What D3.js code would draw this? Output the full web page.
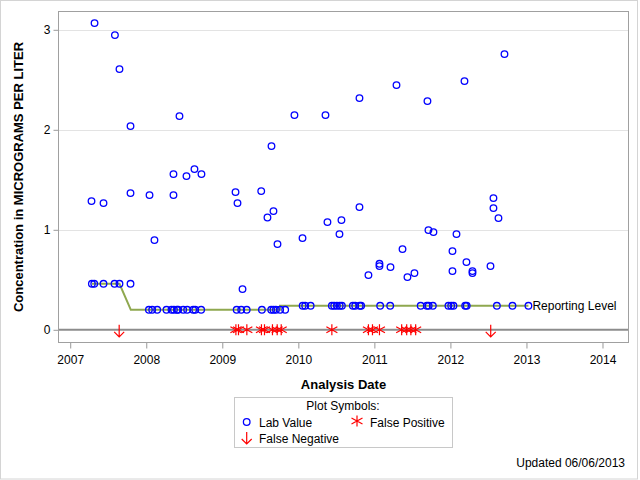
<!DOCTYPE html>
<html><head><meta charset="utf-8">
<script src="https://cdn.jsdelivr.net/npm/d3@7"></script>
<style>body{margin:0;background:#fff}svg{display:block;font-family:"Liberation Sans",Arial,sans-serif}</style>
</head><body><svg id="c" width="640" height="480"></svg>
<script>
// Lab values (decimal year, concentration)
const labYears = [
  2007.320,2007.588,2007.648,2007.793,2008.437,2009.949,2010.357,2009.647,
  2008.358,2008.529,2008.634,2008.726,2007.280,2007.438,2007.793,2008.043,2008.108,2008.358,
  2009.174,2009.200,2009.266,2009.512,2009.594,2009.673,2009.726,2010.055,2010.383,2010.567,2010.541,
  2010.804,2010.922,2011.067,2011.067,2011.212,2011.370,2011.435,2011.527,2011.711,2011.777,
  2012.080,2012.027,2012.027,2012.211,2012.290,2012.290,2012.527,2012.566,2012.566,2012.632,
  2010.804,2011.291,2011.698,2012.185,2012.711,
  2007.285,2007.316,2007.438,2007.583,2007.648,2007.793,
  2008.035,2008.078,2008.144,2008.266,2008.332,2008.364,2008.403,2008.420,2008.486,2008.538,
  2008.617,2008.644,2008.722,2009.189,2009.249,2009.321,2009.521,2009.643,2009.673,2009.705,2009.761,2009.827,
  2010.057,2010.090,2010.162,2010.441,2010.471,2010.507,2010.544,2010.573,2010.717,2010.748,2010.807,2010.826,
  2011.076,2011.208,2011.609,2011.690,2011.714,2011.769,2011.974,2012.010,2012.040,2012.194,2012.214,
  2012.611,2012.816,2013.026
];
const labValues = [
  3.067,2.947,2.607,2.037,2.137,2.147,2.147,1.837,
  1.557,1.537,1.607,1.557,1.287,1.267,1.367,1.347,0.897,1.347,
  1.377,1.267,0.407,1.387,1.123,1.187,0.857,0.917,1.077,1.097,0.957,
  1.227,0.547,0.660,0.637,0.627,0.807,0.527,0.567,0.997,0.977,
  0.957,0.787,0.587,0.677,0.587,0.567,0.637,1.317,1.217,1.117,
  2.317,2.447,2.287,2.487,2.757,
  0.46,0.46,0.46,0.46,0.46,0.46,
  0.2,0.2,0.2,0.2,0.2,0.2,0.2,0.2,0.2,0.2,
  0.2,0.2,0.2,0.2,0.2,0.2,0.2,0.2,0.2,0.2,0.2,0.2,
  0.24,0.24,0.24,0.24,0.24,0.24,0.24,0.24,0.24,0.24,0.24,0.24,
  0.24,0.24,0.24,0.24,0.24,0.24,0.24,0.24,0.24,0.24,0.24,
  0.24,0.24,0.24
];
// False positives (plotted at 0)
const fpYears = [2009.179,2009.213,2009.323,2009.515,2009.555,2009.660,2009.722,2009.775,
  2010.441,2010.922,2010.975,2011.067,2011.359,2011.425,2011.480,2011.543];
// False negatives (plotted at 0)
const fnYears = [2007.644,2012.530];
// Reporting level step line
const rlYears  = [2007.285,2007.648,2007.797,2009.760,2009.760,2013.026];
const rlValues = [0.46,0.46,0.2,0.2,0.24,0.24];
const xTicks = [2007,2008,2009,2010,2011,2012,2013,2014];
const yTicks = [0,1,2,3];

const svg = d3.select("#c");
const L=58.5,R=628.5,T=11.5,B=342.5;
const x = d3.scaleLinear().domain([2006.846,2014.342]).range([L,R]);
const y = d3.scaleLinear().domain([-0.127,3.183]).range([B,T]);

// outer border
svg.append("rect").attr("x",0.5).attr("y",0.5).attr("width",637).attr("height",478.5)
  .attr("fill","none").attr("stroke","#d4d4d4");

// grid
svg.append("g").selectAll("line").data(yTicks.filter(d=>d>0)).join("line")
  .attr("x1",L).attr("x2",R).attr("y1",d=>Math.round(y(d))+0.5).attr("y2",d=>Math.round(y(d))+0.5)
  .attr("stroke","#e3e3e3");

// zero reference line
svg.append("line").attr("x1",L).attr("x2",R).attr("y1",y(0)).attr("y2",y(0))
  .attr("stroke","#8c8c8c").attr("stroke-width",2);

// reporting level line
const rl = rlYears.map((d,i)=>[d,rlValues[i]]);
svg.append("path").datum(rl).attr("d",d3.line().x(d=>x(d[0])).y(d=>y(d[1])))
  .attr("fill","none").attr("stroke","#8fa84f").attr("stroke-width",2);
svg.append("text").attr("x",x(rlYears[rlYears.length-1])+4).attr("y",y(0.24)+4.5)
  .attr("font-size",12).text("Reporting Level");

// axes
const xa = svg.append("g").attr("transform",`translate(0,${B})`)
  .call(d3.axisBottom(x).tickValues(xTicks).tickFormat(d3.format("d")).tickSize(6).tickSizeOuter(0));
const ya = svg.append("g").attr("transform",`translate(${L},0)`)
  .call(d3.axisLeft(y).tickValues(yTicks).tickFormat(d3.format("d")).tickSize(5).tickSizeOuter(0));
[xa,ya].forEach(a=>{a.select(".domain").remove();a.selectAll("line").attr("stroke","#999");
  a.selectAll("text").attr("font-size",12).attr("fill","#000").attr("font-family","Liberation Sans, Arial, sans-serif");});
xa.selectAll("text").attr("dy","0.95em").attr("y",10);
ya.selectAll("text").attr("x",-8);

// frame
svg.append("rect").attr("x",L).attr("y",T).attr("width",R-L).attr("height",B-T)
  .attr("fill","none").attr("stroke","#a0a0a0");

// marks
const starPath = "M0,-5.5L0,5.5M-5.5,-3L5.5,3M-5.5,3L5.5,-3";
const arrowPath = "M0,-6L0,6M-5,1L0,6L5,1";
svg.append("g").selectAll("path").data(fpYears).join("path")
  .attr("d",starPath).attr("transform",d=>`translate(${x(d)},${y(0)})`)
  .attr("stroke","#ff0000").attr("stroke-width",1.2).attr("fill","none");
svg.append("g").selectAll("path").data(fnYears).join("path")
  .attr("d",arrowPath).attr("transform",d=>`translate(${x(d)},${y(0)+1})`)
  .attr("stroke","#ff0000").attr("stroke-width",1.2).attr("fill","none");
svg.append("g").selectAll("circle").data(labYears.map((d,i)=>[d,labValues[i]])).join("circle")
  .attr("cx",d=>x(d[0])).attr("cy",d=>y(d[1])).attr("r",3.3)
  .attr("fill","none").attr("stroke","#0000ff").attr("stroke-width",1.3);

// axis titles
svg.append("text").attr("x",(L+R)/2).attr("y",389).attr("text-anchor","middle")
  .attr("font-size",13).attr("font-weight","bold").text("Analysis Date");
svg.append("text").attr("transform",`translate(23,${(T+B)/2}) rotate(-90)`).attr("text-anchor","middle")
  .attr("font-size",13).attr("font-weight","bold").text("Concentration in MICROGRAMS PER LITER");

// legend
const lg = svg.append("g");
lg.append("rect").attr("x",234.5).attr("y",397.5).attr("width",218).attr("height",50)
  .attr("fill","none").attr("stroke","#c8c8c8");
lg.append("text").attr("x",343).attr("y",410).attr("text-anchor","middle").attr("font-size",12).text("Plot Symbols:");
lg.append("circle").attr("cx",246.7).attr("cy",422).attr("r",3.3).attr("fill","none").attr("stroke","#0000ff").attr("stroke-width",1.3);
lg.append("text").attr("x",259).attr("y",426.5).attr("font-size",12).text("Lab Value");
lg.append("path").attr("d",starPath).attr("transform","translate(357,421)").attr("stroke","#ff0000").attr("stroke-width",1.2).attr("fill","none");
lg.append("text").attr("x",370).attr("y",426.5).attr("font-size",12).text("False Positive");
lg.append("path").attr("d",arrowPath).attr("transform","translate(246.7,438)").attr("stroke","#ff0000").attr("stroke-width",1.2).attr("fill","none");
lg.append("text").attr("x",259).attr("y",443).attr("font-size",12).text("False Negative");

svg.append("text").attr("x",625).attr("y",467).attr("text-anchor","end").attr("font-size",12).text("Updated 06/06/2013");
</script></body></html>
